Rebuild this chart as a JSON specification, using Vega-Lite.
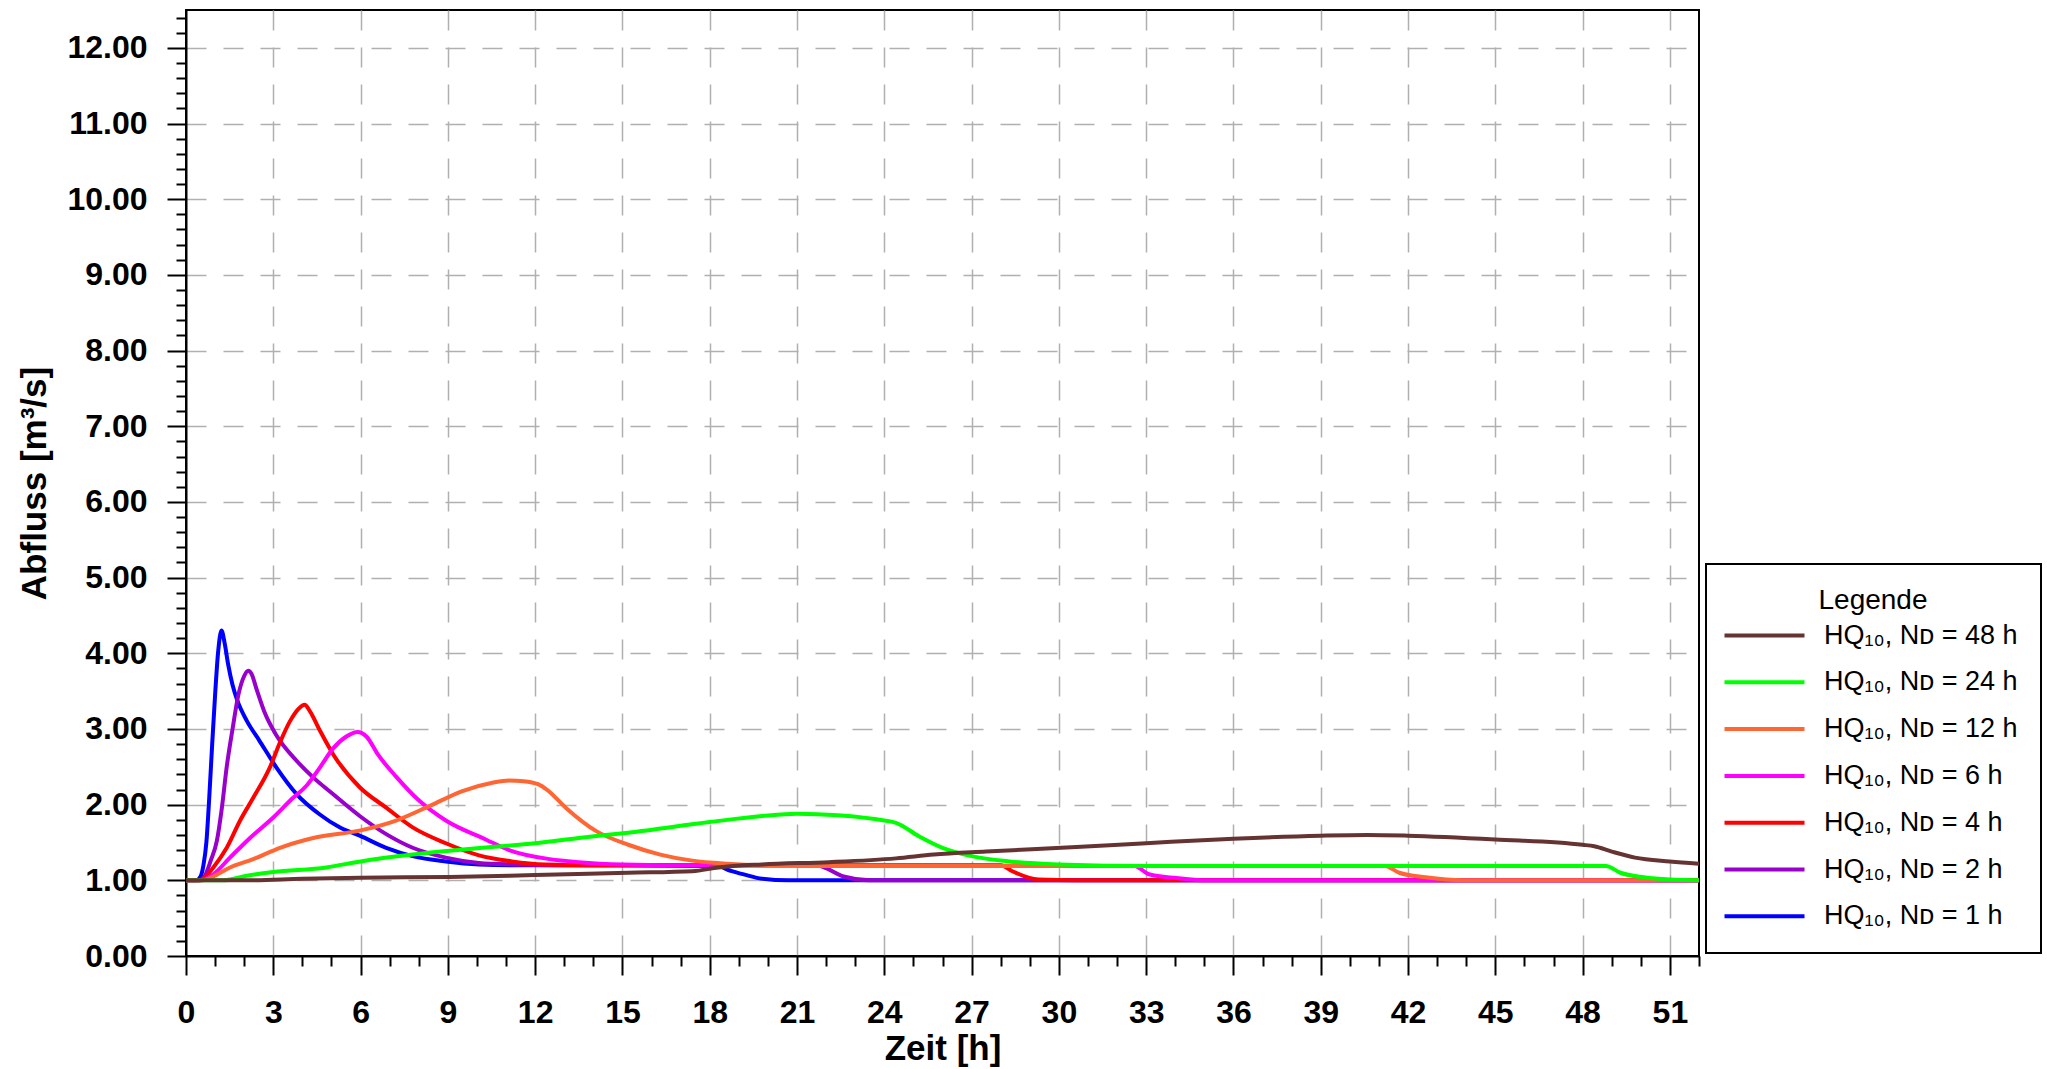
{
  "$schema": "https://vega.github.io/schema/vega-lite/v6.json",
  "width": 1513,
  "height": 946,
  "autosize": "none",
  "padding": {"left": 186, "top": 10, "right": 348, "bottom": 113},
  "background": "white",
  "config": {
    "font": "Liberation Sans",
    "view": {"stroke": "black", "strokeWidth": 2},
    "legend": {"strokeWidth": 2}
  },
  "data": {
    "values": [
      {"s": "HQ₁₀, Nᴅ = 1 h", "t": 0, "q": 1.0},
      {"s": "HQ₁₀, Nᴅ = 1 h", "t": 0.35, "q": 1.0},
      {"s": "HQ₁₀, Nᴅ = 1 h", "t": 0.5, "q": 1.05},
      {"s": "HQ₁₀, Nᴅ = 1 h", "t": 0.6, "q": 1.2},
      {"s": "HQ₁₀, Nᴅ = 1 h", "t": 0.7, "q": 1.5},
      {"s": "HQ₁₀, Nᴅ = 1 h", "t": 0.8, "q": 2.1},
      {"s": "HQ₁₀, Nᴅ = 1 h", "t": 0.9, "q": 2.8},
      {"s": "HQ₁₀, Nᴅ = 1 h", "t": 1.0, "q": 3.45},
      {"s": "HQ₁₀, Nᴅ = 1 h", "t": 1.1, "q": 4.0},
      {"s": "HQ₁₀, Nᴅ = 1 h", "t": 1.22, "q": 4.3},
      {"s": "HQ₁₀, Nᴅ = 1 h", "t": 1.32, "q": 4.15},
      {"s": "HQ₁₀, Nᴅ = 1 h", "t": 1.45, "q": 3.85},
      {"s": "HQ₁₀, Nᴅ = 1 h", "t": 1.6, "q": 3.58},
      {"s": "HQ₁₀, Nᴅ = 1 h", "t": 1.77, "q": 3.37},
      {"s": "HQ₁₀, Nᴅ = 1 h", "t": 2.1, "q": 3.1},
      {"s": "HQ₁₀, Nᴅ = 1 h", "t": 2.5, "q": 2.86},
      {"s": "HQ₁₀, Nᴅ = 1 h", "t": 3.11, "q": 2.49},
      {"s": "HQ₁₀, Nᴅ = 1 h", "t": 3.8, "q": 2.14},
      {"s": "HQ₁₀, Nᴅ = 1 h", "t": 4.6, "q": 1.87},
      {"s": "HQ₁₀, Nᴅ = 1 h", "t": 5.28, "q": 1.7},
      {"s": "HQ₁₀, Nᴅ = 1 h", "t": 5.97, "q": 1.59},
      {"s": "HQ₁₀, Nᴅ = 1 h", "t": 6.88, "q": 1.43},
      {"s": "HQ₁₀, Nᴅ = 1 h", "t": 7.79, "q": 1.32},
      {"s": "HQ₁₀, Nᴅ = 1 h", "t": 8.93, "q": 1.25},
      {"s": "HQ₁₀, Nᴅ = 1 h", "t": 10.07, "q": 1.21},
      {"s": "HQ₁₀, Nᴅ = 1 h", "t": 11.2, "q": 1.2},
      {"s": "HQ₁₀, Nᴅ = 1 h", "t": 14, "q": 1.2},
      {"s": "HQ₁₀, Nᴅ = 1 h", "t": 18.3, "q": 1.19},
      {"s": "HQ₁₀, Nᴅ = 1 h", "t": 18.6, "q": 1.14},
      {"s": "HQ₁₀, Nᴅ = 1 h", "t": 19.2, "q": 1.075},
      {"s": "HQ₁₀, Nᴅ = 1 h", "t": 19.8, "q": 1.02},
      {"s": "HQ₁₀, Nᴅ = 1 h", "t": 20.7, "q": 1.0},
      {"s": "HQ₁₀, Nᴅ = 1 h", "t": 52, "q": 1.0},

      {"s": "HQ₁₀, Nᴅ = 2 h", "t": 0, "q": 1.0},
      {"s": "HQ₁₀, Nᴅ = 2 h", "t": 0.49, "q": 1.0},
      {"s": "HQ₁₀, Nᴅ = 2 h", "t": 0.7, "q": 1.1},
      {"s": "HQ₁₀, Nᴅ = 2 h", "t": 0.85, "q": 1.26},
      {"s": "HQ₁₀, Nᴅ = 2 h", "t": 1.06, "q": 1.52},
      {"s": "HQ₁₀, Nᴅ = 2 h", "t": 1.23, "q": 1.95},
      {"s": "HQ₁₀, Nᴅ = 2 h", "t": 1.4, "q": 2.5},
      {"s": "HQ₁₀, Nᴅ = 2 h", "t": 1.6, "q": 3.0},
      {"s": "HQ₁₀, Nᴅ = 2 h", "t": 1.8, "q": 3.45},
      {"s": "HQ₁₀, Nᴅ = 2 h", "t": 2.0, "q": 3.7},
      {"s": "HQ₁₀, Nᴅ = 2 h", "t": 2.14, "q": 3.77},
      {"s": "HQ₁₀, Nᴅ = 2 h", "t": 2.25, "q": 3.73},
      {"s": "HQ₁₀, Nᴅ = 2 h", "t": 2.43, "q": 3.52},
      {"s": "HQ₁₀, Nᴅ = 2 h", "t": 2.7, "q": 3.22},
      {"s": "HQ₁₀, Nᴅ = 2 h", "t": 3.1, "q": 2.92},
      {"s": "HQ₁₀, Nᴅ = 2 h", "t": 3.8, "q": 2.58},
      {"s": "HQ₁₀, Nᴅ = 2 h", "t": 4.37, "q": 2.36},
      {"s": "HQ₁₀, Nᴅ = 2 h", "t": 5.05, "q": 2.14},
      {"s": "HQ₁₀, Nᴅ = 2 h", "t": 5.97, "q": 1.85},
      {"s": "HQ₁₀, Nᴅ = 2 h", "t": 6.88, "q": 1.61},
      {"s": "HQ₁₀, Nᴅ = 2 h", "t": 7.79, "q": 1.43},
      {"s": "HQ₁₀, Nᴅ = 2 h", "t": 8.93, "q": 1.3},
      {"s": "HQ₁₀, Nᴅ = 2 h", "t": 10.07, "q": 1.23},
      {"s": "HQ₁₀, Nᴅ = 2 h", "t": 11.2, "q": 1.21},
      {"s": "HQ₁₀, Nᴅ = 2 h", "t": 13, "q": 1.2},
      {"s": "HQ₁₀, Nᴅ = 2 h", "t": 21.7, "q": 1.2},
      {"s": "HQ₁₀, Nᴅ = 2 h", "t": 22.0, "q": 1.16},
      {"s": "HQ₁₀, Nᴅ = 2 h", "t": 22.6, "q": 1.05},
      {"s": "HQ₁₀, Nᴅ = 2 h", "t": 23.5, "q": 1.0},
      {"s": "HQ₁₀, Nᴅ = 2 h", "t": 52, "q": 1.0},

      {"s": "HQ₁₀, Nᴅ = 4 h", "t": 0, "q": 1.0},
      {"s": "HQ₁₀, Nᴅ = 4 h", "t": 0.45, "q": 1.0},
      {"s": "HQ₁₀, Nᴅ = 4 h", "t": 0.7, "q": 1.06},
      {"s": "HQ₁₀, Nᴅ = 4 h", "t": 0.94, "q": 1.17},
      {"s": "HQ₁₀, Nᴅ = 4 h", "t": 1.4, "q": 1.43},
      {"s": "HQ₁₀, Nᴅ = 4 h", "t": 1.86, "q": 1.79},
      {"s": "HQ₁₀, Nᴅ = 4 h", "t": 2.31, "q": 2.09},
      {"s": "HQ₁₀, Nᴅ = 4 h", "t": 2.88, "q": 2.49},
      {"s": "HQ₁₀, Nᴅ = 4 h", "t": 3.25, "q": 2.84},
      {"s": "HQ₁₀, Nᴅ = 4 h", "t": 3.57, "q": 3.1},
      {"s": "HQ₁₀, Nᴅ = 4 h", "t": 3.85, "q": 3.26},
      {"s": "HQ₁₀, Nᴅ = 4 h", "t": 4.08, "q": 3.32},
      {"s": "HQ₁₀, Nᴅ = 4 h", "t": 4.25, "q": 3.24},
      {"s": "HQ₁₀, Nᴅ = 4 h", "t": 4.6, "q": 2.98},
      {"s": "HQ₁₀, Nᴅ = 4 h", "t": 5.05, "q": 2.67},
      {"s": "HQ₁₀, Nᴅ = 4 h", "t": 5.97, "q": 2.23},
      {"s": "HQ₁₀, Nᴅ = 4 h", "t": 6.88, "q": 1.96},
      {"s": "HQ₁₀, Nᴅ = 4 h", "t": 7.79, "q": 1.7},
      {"s": "HQ₁₀, Nᴅ = 4 h", "t": 8.93, "q": 1.49},
      {"s": "HQ₁₀, Nᴅ = 4 h", "t": 10.07, "q": 1.33},
      {"s": "HQ₁₀, Nᴅ = 4 h", "t": 11.2, "q": 1.25},
      {"s": "HQ₁₀, Nᴅ = 4 h", "t": 12.36, "q": 1.21},
      {"s": "HQ₁₀, Nᴅ = 4 h", "t": 14, "q": 1.2},
      {"s": "HQ₁₀, Nᴅ = 4 h", "t": 28, "q": 1.2},
      {"s": "HQ₁₀, Nᴅ = 4 h", "t": 28.4, "q": 1.12},
      {"s": "HQ₁₀, Nᴅ = 4 h", "t": 29.3, "q": 1.01},
      {"s": "HQ₁₀, Nᴅ = 4 h", "t": 30.6, "q": 1.0},
      {"s": "HQ₁₀, Nᴅ = 4 h", "t": 52, "q": 1.0},

      {"s": "HQ₁₀, Nᴅ = 6 h", "t": 0, "q": 1.0},
      {"s": "HQ₁₀, Nᴅ = 6 h", "t": 0.5, "q": 1.0},
      {"s": "HQ₁₀, Nᴅ = 6 h", "t": 0.94, "q": 1.08},
      {"s": "HQ₁₀, Nᴅ = 6 h", "t": 1.51, "q": 1.3},
      {"s": "HQ₁₀, Nᴅ = 6 h", "t": 2.2, "q": 1.56},
      {"s": "HQ₁₀, Nᴅ = 6 h", "t": 3.0, "q": 1.83},
      {"s": "HQ₁₀, Nᴅ = 6 h", "t": 3.68, "q": 2.09},
      {"s": "HQ₁₀, Nᴅ = 6 h", "t": 4.14, "q": 2.25},
      {"s": "HQ₁₀, Nᴅ = 6 h", "t": 4.6, "q": 2.49},
      {"s": "HQ₁₀, Nᴅ = 6 h", "t": 5.05, "q": 2.74},
      {"s": "HQ₁₀, Nᴅ = 6 h", "t": 5.51, "q": 2.9},
      {"s": "HQ₁₀, Nᴅ = 6 h", "t": 5.9, "q": 2.96},
      {"s": "HQ₁₀, Nᴅ = 6 h", "t": 6.2, "q": 2.9},
      {"s": "HQ₁₀, Nᴅ = 6 h", "t": 6.6, "q": 2.66},
      {"s": "HQ₁₀, Nᴅ = 6 h", "t": 7.22, "q": 2.37},
      {"s": "HQ₁₀, Nᴅ = 6 h", "t": 8.02, "q": 2.05},
      {"s": "HQ₁₀, Nᴅ = 6 h", "t": 8.93, "q": 1.79},
      {"s": "HQ₁₀, Nᴅ = 6 h", "t": 10.3, "q": 1.54},
      {"s": "HQ₁₀, Nᴅ = 6 h", "t": 11.1, "q": 1.4},
      {"s": "HQ₁₀, Nᴅ = 6 h", "t": 12.5, "q": 1.28},
      {"s": "HQ₁₀, Nᴅ = 6 h", "t": 13.5, "q": 1.24},
      {"s": "HQ₁₀, Nᴅ = 6 h", "t": 15, "q": 1.21},
      {"s": "HQ₁₀, Nᴅ = 6 h", "t": 17, "q": 1.2},
      {"s": "HQ₁₀, Nᴅ = 6 h", "t": 32.6, "q": 1.19},
      {"s": "HQ₁₀, Nᴅ = 6 h", "t": 33.1, "q": 1.08},
      {"s": "HQ₁₀, Nᴅ = 6 h", "t": 34.05, "q": 1.03},
      {"s": "HQ₁₀, Nᴅ = 6 h", "t": 35, "q": 1.0},
      {"s": "HQ₁₀, Nᴅ = 6 h", "t": 52, "q": 1.0},

      {"s": "HQ₁₀, Nᴅ = 12 h", "t": 0, "q": 1.0},
      {"s": "HQ₁₀, Nᴅ = 12 h", "t": 0.6, "q": 1.0},
      {"s": "HQ₁₀, Nᴅ = 12 h", "t": 0.94, "q": 1.05},
      {"s": "HQ₁₀, Nᴅ = 12 h", "t": 1.51, "q": 1.17},
      {"s": "HQ₁₀, Nᴅ = 12 h", "t": 2.31, "q": 1.28},
      {"s": "HQ₁₀, Nᴅ = 12 h", "t": 3.23, "q": 1.43},
      {"s": "HQ₁₀, Nᴅ = 12 h", "t": 4.37, "q": 1.56},
      {"s": "HQ₁₀, Nᴅ = 12 h", "t": 6.0, "q": 1.66},
      {"s": "HQ₁₀, Nᴅ = 12 h", "t": 7.22, "q": 1.79},
      {"s": "HQ₁₀, Nᴅ = 12 h", "t": 8.36, "q": 1.98},
      {"s": "HQ₁₀, Nᴅ = 12 h", "t": 9.5, "q": 2.18},
      {"s": "HQ₁₀, Nᴅ = 12 h", "t": 10.53, "q": 2.29},
      {"s": "HQ₁₀, Nᴅ = 12 h", "t": 11.1, "q": 2.32},
      {"s": "HQ₁₀, Nᴅ = 12 h", "t": 11.6, "q": 2.31},
      {"s": "HQ₁₀, Nᴅ = 12 h", "t": 12.1, "q": 2.27},
      {"s": "HQ₁₀, Nᴅ = 12 h", "t": 12.4, "q": 2.2},
      {"s": "HQ₁₀, Nᴅ = 12 h", "t": 13.05, "q": 1.96},
      {"s": "HQ₁₀, Nᴅ = 12 h", "t": 14.1, "q": 1.65},
      {"s": "HQ₁₀, Nᴅ = 12 h", "t": 15.2, "q": 1.47},
      {"s": "HQ₁₀, Nᴅ = 12 h", "t": 16.3, "q": 1.34},
      {"s": "HQ₁₀, Nᴅ = 12 h", "t": 17.4, "q": 1.26},
      {"s": "HQ₁₀, Nᴅ = 12 h", "t": 18.6, "q": 1.22},
      {"s": "HQ₁₀, Nᴅ = 12 h", "t": 19.8, "q": 1.2},
      {"s": "HQ₁₀, Nᴅ = 12 h", "t": 22, "q": 1.19},
      {"s": "HQ₁₀, Nᴅ = 12 h", "t": 41.2, "q": 1.19},
      {"s": "HQ₁₀, Nᴅ = 12 h", "t": 41.7, "q": 1.1},
      {"s": "HQ₁₀, Nᴅ = 12 h", "t": 42.6, "q": 1.04},
      {"s": "HQ₁₀, Nᴅ = 12 h", "t": 43.9, "q": 1.0},
      {"s": "HQ₁₀, Nᴅ = 12 h", "t": 52, "q": 1.0},

      {"s": "HQ₁₀, Nᴅ = 24 h", "t": 0, "q": 1.0},
      {"s": "HQ₁₀, Nᴅ = 24 h", "t": 1.29, "q": 1.0},
      {"s": "HQ₁₀, Nᴅ = 24 h", "t": 2.09, "q": 1.06},
      {"s": "HQ₁₀, Nᴅ = 24 h", "t": 3.0, "q": 1.11},
      {"s": "HQ₁₀, Nᴅ = 24 h", "t": 4.82, "q": 1.17},
      {"s": "HQ₁₀, Nᴅ = 24 h", "t": 6.0, "q": 1.25},
      {"s": "HQ₁₀, Nᴅ = 24 h", "t": 7.79, "q": 1.34},
      {"s": "HQ₁₀, Nᴅ = 24 h", "t": 9.05, "q": 1.39},
      {"s": "HQ₁₀, Nᴅ = 24 h", "t": 10.5, "q": 1.44},
      {"s": "HQ₁₀, Nᴅ = 24 h", "t": 12, "q": 1.49},
      {"s": "HQ₁₀, Nᴅ = 24 h", "t": 13.5, "q": 1.56},
      {"s": "HQ₁₀, Nᴅ = 24 h", "t": 15.2, "q": 1.63},
      {"s": "HQ₁₀, Nᴅ = 24 h", "t": 18, "q": 1.77},
      {"s": "HQ₁₀, Nᴅ = 24 h", "t": 19.8, "q": 1.85},
      {"s": "HQ₁₀, Nᴅ = 24 h", "t": 21, "q": 1.88},
      {"s": "HQ₁₀, Nᴅ = 24 h", "t": 22.4, "q": 1.86},
      {"s": "HQ₁₀, Nᴅ = 24 h", "t": 24, "q": 1.79},
      {"s": "HQ₁₀, Nᴅ = 24 h", "t": 24.4, "q": 1.76},
      {"s": "HQ₁₀, Nᴅ = 24 h", "t": 25.2, "q": 1.58},
      {"s": "HQ₁₀, Nᴅ = 24 h", "t": 26, "q": 1.43},
      {"s": "HQ₁₀, Nᴅ = 24 h", "t": 27, "q": 1.32},
      {"s": "HQ₁₀, Nᴅ = 24 h", "t": 28.3, "q": 1.25},
      {"s": "HQ₁₀, Nᴅ = 24 h", "t": 30, "q": 1.21},
      {"s": "HQ₁₀, Nᴅ = 24 h", "t": 33, "q": 1.19},
      {"s": "HQ₁₀, Nᴅ = 24 h", "t": 48.8, "q": 1.19},
      {"s": "HQ₁₀, Nᴅ = 24 h", "t": 49.3, "q": 1.1},
      {"s": "HQ₁₀, Nᴅ = 24 h", "t": 50.1, "q": 1.04},
      {"s": "HQ₁₀, Nᴅ = 24 h", "t": 51, "q": 1.01},
      {"s": "HQ₁₀, Nᴅ = 24 h", "t": 52, "q": 1.0},

      {"s": "HQ₁₀, Nᴅ = 48 h", "t": 0, "q": 1.0},
      {"s": "HQ₁₀, Nᴅ = 48 h", "t": 2.1, "q": 1.0},
      {"s": "HQ₁₀, Nᴅ = 48 h", "t": 4, "q": 1.02},
      {"s": "HQ₁₀, Nᴅ = 48 h", "t": 6, "q": 1.035},
      {"s": "HQ₁₀, Nᴅ = 48 h", "t": 9.05, "q": 1.045},
      {"s": "HQ₁₀, Nᴅ = 48 h", "t": 12, "q": 1.07},
      {"s": "HQ₁₀, Nᴅ = 48 h", "t": 15.2, "q": 1.1},
      {"s": "HQ₁₀, Nᴅ = 48 h", "t": 17.4, "q": 1.12},
      {"s": "HQ₁₀, Nᴅ = 48 h", "t": 18.3, "q": 1.17},
      {"s": "HQ₁₀, Nᴅ = 48 h", "t": 19.8, "q": 1.21},
      {"s": "HQ₁₀, Nᴅ = 48 h", "t": 22.1, "q": 1.24},
      {"s": "HQ₁₀, Nᴅ = 48 h", "t": 24.4, "q": 1.29},
      {"s": "HQ₁₀, Nᴅ = 48 h", "t": 25.7, "q": 1.34},
      {"s": "HQ₁₀, Nᴅ = 48 h", "t": 27.5, "q": 1.38},
      {"s": "HQ₁₀, Nᴅ = 48 h", "t": 30.6, "q": 1.44},
      {"s": "HQ₁₀, Nᴅ = 48 h", "t": 33, "q": 1.49},
      {"s": "HQ₁₀, Nᴅ = 48 h", "t": 36, "q": 1.55},
      {"s": "HQ₁₀, Nᴅ = 48 h", "t": 39, "q": 1.59},
      {"s": "HQ₁₀, Nᴅ = 48 h", "t": 40.6, "q": 1.6},
      {"s": "HQ₁₀, Nᴅ = 48 h", "t": 42, "q": 1.59},
      {"s": "HQ₁₀, Nᴅ = 48 h", "t": 45, "q": 1.54},
      {"s": "HQ₁₀, Nᴅ = 48 h", "t": 48, "q": 1.47},
      {"s": "HQ₁₀, Nᴅ = 48 h", "t": 48.4, "q": 1.45},
      {"s": "HQ₁₀, Nᴅ = 48 h", "t": 49, "q": 1.38},
      {"s": "HQ₁₀, Nᴅ = 48 h", "t": 49.8, "q": 1.3},
      {"s": "HQ₁₀, Nᴅ = 48 h", "t": 51, "q": 1.25},
      {"s": "HQ₁₀, Nᴅ = 48 h", "t": 52, "q": 1.22}
    ]
  },
  "mark": {"type": "line", "strokeWidth": 4, "interpolate": "monotone", "clip": true},
  "encoding": {
    "x": {
      "field": "t",
      "type": "quantitative",
      "scale": {"domain": [0, 52], "nice": false, "zero": false},
      "axis": {
        "title": "Zeit [h]",
        "titleFont": "Liberation Sans",
        "titleFontSize": 35,
        "titleFontWeight": "bold",
        "titleColor": "black",
        "titlePadding": 3,
        "values": [0,1,2,3,4,5,6,7,8,9,10,11,12,13,14,15,16,17,18,19,20,21,22,23,24,25,26,27,28,29,30,31,32,33,34,35,36,37,38,39,40,41,42,43,44,45,46,47,48,49,50,51,52],
        "labelExpr": "datum.value % 3 === 0 ? format(datum.value, 'd') : ''",
        "labelFont": "Liberation Sans",
        "labelFontSize": 32,
        "labelFontWeight": "bold",
        "labelColor": "black",
        "labelPadding": 22,
        "labelOverlap": false,
        "labelFlush": false,
        "domainColor": "black",
        "domainWidth": 2,
        "tickColor": "black",
        "tickWidth": 2,
        "tickSize": {"condition": {"test": "datum.value % 3 === 0", "value": 19}, "value": 10},
        "grid": true,
        "gridColor": "#b0b0b0",
        "gridWidth": 1.5,
        "gridDash": [20, 17],
        "gridOpacity": {"condition": {"test": "datum.value % 3 === 0 && datum.value > 0", "value": 1}, "value": 0}
      }
    },
    "y": {
      "field": "q",
      "type": "quantitative",
      "scale": {"domain": [0, 12.5], "nice": false, "zero": false},
      "axis": {
        "title": "Abfluss [m³/s]",
        "titleFont": "Liberation Sans",
        "titleFontSize": 35,
        "titleFontWeight": "bold",
        "titleColor": "black",
        "titlePadding": 14,
        "values": [0,0.2,0.4,0.6,0.8,1,1.2,1.4,1.6,1.8,2,2.2,2.4,2.6,2.8,3,3.2,3.4,3.6,3.8,4,4.2,4.4,4.6,4.8,5,5.2,5.4,5.6,5.8,6,6.2,6.4,6.6,6.8,7,7.2,7.4,7.6,7.8,8,8.2,8.4,8.6,8.8,9,9.2,9.4,9.6,9.8,10,10.2,10.4,10.6,10.8,11,11.2,11.4,11.6,11.8,12,12.2,12.4],
        "labelExpr": "abs(datum.value - round(datum.value)) < 0.001 ? format(datum.value, '.2f') : ''",
        "labelFont": "Liberation Sans",
        "labelFontSize": 32,
        "labelFontWeight": "bold",
        "labelColor": "black",
        "labelPadding": 20,
        "labelOverlap": false,
        "labelFlush": false,
        "domainColor": "black",
        "domainWidth": 2,
        "tickColor": "black",
        "tickWidth": 2,
        "tickSize": {"condition": {"test": "abs(datum.value - round(datum.value)) < 0.001", "value": 19}, "value": 10},
        "grid": true,
        "gridColor": "#b0b0b0",
        "gridWidth": 1.5,
        "gridDash": [20, 17],
        "gridOpacity": {"condition": {"test": "abs(datum.value - round(datum.value)) < 0.001 && datum.value > 0", "value": 1}, "value": 0}
      }
    },
    "color": {
      "field": "s",
      "type": "nominal",
      "scale": {
        "domain": ["HQ₁₀, Nᴅ = 48 h", "HQ₁₀, Nᴅ = 24 h", "HQ₁₀, Nᴅ = 12 h", "HQ₁₀, Nᴅ = 6 h", "HQ₁₀, Nᴅ = 4 h", "HQ₁₀, Nᴅ = 2 h", "HQ₁₀, Nᴅ = 1 h"],
        "range": ["#663333", "#00ff00", "#ff6633", "#ff00ff", "#ff0000", "#9900cc", "#0000ff"]
      },
      "legend": {
        "orient": "none",
        "legendX": 1520,
        "legendY": 554,
        "direction": "vertical",
        "title": "Legende",
        "titleFont": "Liberation Sans",
        "titleFontSize": 28,
        "titleFontWeight": "normal",
        "titleColor": "black",
        "titleAnchor": "middle",
        "titlePadding": 7,
        "labelFont": "Liberation Sans",
        "labelFontSize": 27,
        "labelColor": "black",
        "labelLimit": 400,
        "labelOffset": 68,
        "symbolType": "M-1.8,0H6.2",
        "symbolSize": 400,
        "symbolStrokeWidth": 4,
        "rowPadding": 18.8,
        "padding": 23,
        "strokeColor": "black",
        "fillColor": "white"
      }
    }
  }
}
